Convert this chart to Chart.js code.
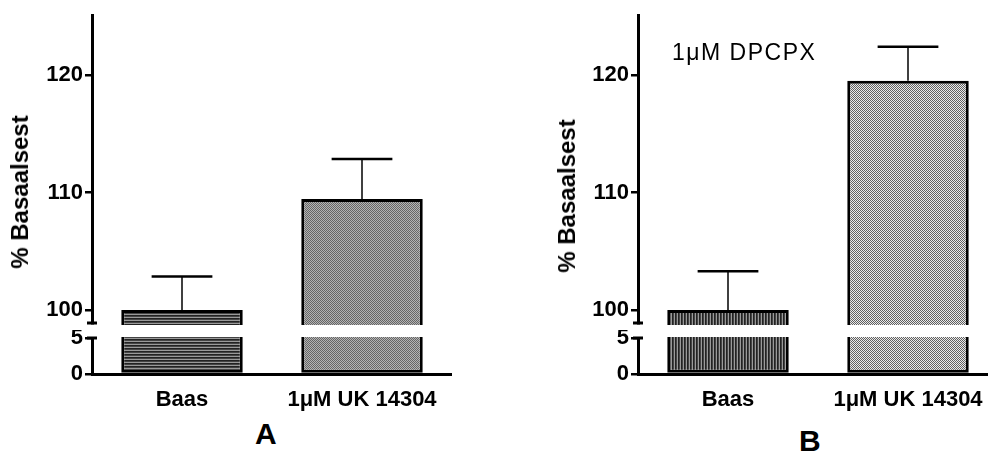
<!DOCTYPE html>
<html>
<head>
<meta charset="utf-8">
<title>% Basaalsest</title>
<script src="https://cdn.jsdelivr.net/npm/chart.js@4.4.1/dist/chart.umd.min.js"></script>
<style>
  html, body { margin: 0; padding: 0; background: #fff; overflow: hidden; width: 988px; height: 468px; }
  #wrap { position: relative; width: 988px; height: 468px; overflow: hidden;
          font-family: "Liberation Sans", Arial, sans-serif; }
  canvas { position: absolute; }
  .lbl { position: absolute; color: #000; white-space: nowrap; }
  .ytitle { font-weight: bold; font-size: 24px; transform: translate(-50%, -50%) rotate(-90deg); }
  .panel { font-weight: bold; font-size: 30px; }
  .note { font-size: 23px; letter-spacing: 1.5px; }
</style>
</head>
<body>
<div id="wrap">
  <canvas id="aTop" width="452" height="330" style="left:0;top:0"></canvas>
  <canvas id="aBot" width="452" height="84" style="left:0;top:330px"></canvas>
  <canvas id="bTop" width="458" height="330" style="left:540px;top:0"></canvas>
  <canvas id="bBot" width="458" height="84" style="left:540px;top:330px"></canvas>

  <div class="lbl ytitle" style="left:20px;top:192px">% Basaalsest</div>
  <div class="lbl ytitle" style="left:567px;top:196px">% Basaalsest</div>
  <div class="lbl note" style="left:672px;top:39px">1μM DPCPX</div>
  <div class="lbl panel" style="left:255px;top:417px">A</div>
  <div class="lbl panel" style="left:799px;top:424px">B</div>
</div>

<script>
// ---- data ----
const categories = ['Baas', '1μM UK 14304'];
const meansA = [100, 109.45];
const semA = [2.85, 3.4];
const meansB = [100, 119.5];
const semB = [3.3, 2.9];
const upperTicks = [100, 110, 120];
const lowerTicks = [0, 5];
const upperRange = [98.9, 125.1];
const lowerRange = [0, 5];

const FONT = '"Liberation Sans", Arial, sans-serif';
const tickFont = { family: FONT, size: 22, weight: 'bold' };

// small repeating fills, like the hatch fills of the original
function pattern(w, h, cells) {
    const c = document.createElement('canvas');
    c.width = w; c.height = h;
    const g = c.getContext('2d');
    cells.forEach((col, i) => {
        g.fillStyle = col;
        g.fillRect(i % w, Math.floor(i / w), 1, 1);
    });
    return g.createPattern(c, 'repeat');
}
const fillsA = [
    pattern(1, 3, ['#222', '#444', '#999']),                 // horizontal stripes
    pattern(2, 2, ['#666', '#b4b4b4', '#b4b4b4', '#666'])    // fine dots
];
const fillsB = [
    pattern(3, 1, ['#222', '#444', '#999']),                 // vertical stripes
    pattern(2, 2, ['#606060', '#eaeaea', '#eaeaea', '#606060'])
];

// ---- plugins ----
function makeErrorBars(errors) {
    return {
        id: 'errorBars',
        afterDatasetsDraw(chart) {
            const { ctx, scales: { y } } = chart;
            const meta = chart.getDatasetMeta(0);
            const vals = chart.data.datasets[0].data;
            ctx.save();
            ctx.strokeStyle = '#000';
            meta.data.forEach((bar, i) => {
                const yTop = y.getPixelForValue(vals[i] + errors[i]);
                const half = bar.width / 4;
                ctx.lineWidth = 1.5;
                ctx.beginPath();
                ctx.moveTo(bar.x, bar.y);
                ctx.lineTo(bar.x, yTop);
                ctx.stroke();
                ctx.lineWidth = 2.5;
                ctx.beginPath();
                ctx.moveTo(bar.x - half, yTop);
                ctx.lineTo(bar.x + half, yTop);
                ctx.stroke();
            });
            ctx.restore();
        }
    };
}

// short cap where the y axis is broken
function makeBreakCap(edge) {
    return {
        id: 'breakCap',
        afterDraw(chart) {
            const { ctx, chartArea } = chart;
            const y = edge === 'bottom' ? chartArea.bottom : chartArea.top;
            ctx.save();
            ctx.strokeStyle = '#000';
            ctx.lineWidth = 3;
            ctx.beginPath();
            ctx.moveTo(chartArea.left - 5, y);
            ctx.lineTo(chartArea.left + 5, y);
            ctx.stroke();
            ctx.restore();
        }
    };
}

function yScale(range, ticks, width) {
    return {
        min: range[0],
        max: range[1],
        afterFit: s => { s.width = width; s.paddingTop = 0; s.paddingBottom = 0; },
        afterBuildTicks: s => { s.ticks = ticks.map(v => ({ value: v })); },
        ticks: { color: '#000', font: tickFont, padding: 2 },
        grid: { drawOnChartArea: false, tickLength: 7, lineWidth: 2.5, color: '#000' },
        border: { display: true, width: 3, color: '#000' }
    };
}

// skip = which bar edge sits on the axis break
function dataset(values, fills, skip, clip) {
    return {
        data: values,
        backgroundColor: fills,
        borderColor: '#000',
        borderWidth: 3,
        borderSkipped: skip,
        barPercentage: 0.675,
        categoryPercentage: 1,
        clip: clip
    };
}

function buildPanel(topId, botId, values, errors, fills, axisW) {
    new Chart(document.getElementById(topId), {
        type: 'bar',
        data: { labels: categories, datasets: [dataset(values, fills, 'start', { left: 0, right: 0, top: 0, bottom: 2 })] },
        options: {
            responsive: false,
            animation: false,
            devicePixelRatio: 1,
            layout: { padding: { top: 15, bottom: 7, left: 0, right: 0 } },
            plugins: { legend: { display: false }, tooltip: { enabled: false } },
            scales: {
                x: { display: false },
                y: yScale(upperRange, upperTicks, axisW)
            }
        },
        plugins: [makeErrorBars(errors), makeBreakCap('bottom')]
    });

    new Chart(document.getElementById(botId), {
        type: 'bar',
        data: { labels: categories, datasets: [dataset(values, fills, 'end', { left: 0, right: 0, top: 1, bottom: 0 })] },
        options: {
            responsive: false,
            animation: false,
            devicePixelRatio: 1,
            layout: { padding: { top: 8, bottom: 0, left: 0, right: 0 } },
            plugins: { legend: { display: false }, tooltip: { enabled: false } },
            scales: {
                x: {
                    afterFit: s => { s.height = 40; s.paddingLeft = 0; s.paddingRight = 0; },
                    grid: { display: false },
                    border: { display: true, width: 3, color: '#000' },
                    ticks: { color: '#000', font: tickFont, padding: 5, maxRotation: 0, autoSkip: false }
                },
                y: yScale(lowerRange, lowerTicks, axisW)
            }
        },
        plugins: [makeBreakCap('top')]
    });
}

buildPanel('aTop', 'aBot', meansA, semA, fillsA, 92);
buildPanel('bTop', 'bBot', meansB, semB, fillsB, 98);
</script>
</body>
</html>
